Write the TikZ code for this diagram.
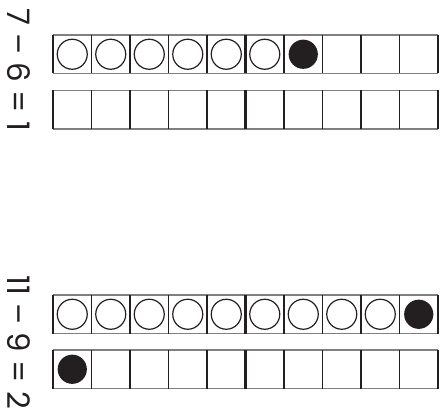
\documentclass[tikz,border=0pt]{standalone}
\usepackage{fontspec}
\setmainfont{Poppins}
\definecolor{ink}{HTML}{231F20}
\definecolor{rule}{HTML}{808080}
\tikzset{
  hline/.style={draw=rule, line width=1.4pt},
  vline/.style={draw=ink, line width=1.1pt},
  midline/.style={draw=ink, line width=2.6pt},
  opencirc/.style={draw=ink, line width=1.2pt, fill=white},
  fullcirc/.style={fill=ink, draw=none},
  eqtext/.style={rotate=-90, font=\fontsize{31}{31}\selectfont, text=ink,
    inner sep=0pt, text height=22pt, text depth=0pt}
}
\begin{document}
\begin{tikzpicture}[x=1pt,y=-1pt]
\useasboundingbox (0,0) rectangle (441,417);
% rows of the ten frames
\foreach \ty in {35,90.5,295,350}{
  \draw[hline] (53,\ty) -- (438,\ty);
  \draw[hline] (53,\ty+38.5) -- (438,\ty+38.5);
  \foreach \i in {0,1,2,3,4,6,7,8,9,10}{
    \draw[vline] (53+38.5*\i,\ty) -- (53+38.5*\i,\ty+38.5);
  }
  \draw[midline] (53+38.5*5,\ty) -- (53+38.5*5,\ty+38.5);
}
% top frame counters
\foreach \i in {0,...,5}{
  \draw[opencirc] (72.25+38.5*\i,54.25) circle (15);
}
\fill[fullcirc] (72.25+38.5*6,54.25) circle (14.6);
% bottom frame counters
\foreach \i in {0,...,8}{
  \draw[opencirc] (72.25+38.5*\i,314.25) circle (15);
}
\fill[fullcirc] (72.25+38.5*9,314.25) circle (14.6);
\fill[fullcirc] (72.25,369.25) circle (14.6);
% equations
\node[eqtext] (eqa) at (18.5,70) {7 – 6 = 1};
\node[eqtext] (eqb) at (18.5,342) {11 – 9 = 2};
\end{tikzpicture}
\end{document}
